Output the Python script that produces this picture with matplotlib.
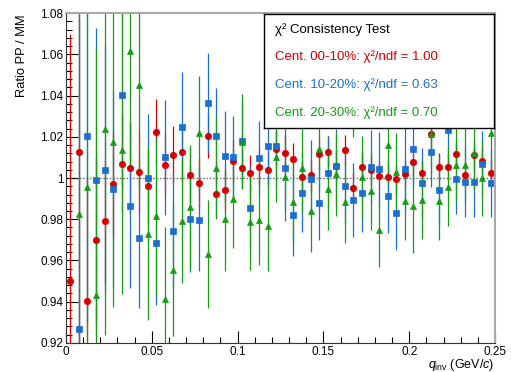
import numpy as np
import matplotlib.pyplot as plt
from matplotlib.ticker import MultipleLocator, FuncFormatter

plt.rcParams['font.family'] = ['Liberation Sans', 'DejaVu Sans']
plt.rcParams['mathtext.fontset'] = 'custom'
plt.rcParams['mathtext.rm'] = 'Liberation Sans'
plt.rcParams['mathtext.it'] = 'Liberation Sans:italic'

# bin centres (GeV/c), 5 MeV bins
q = np.arange(50) * 0.005 + 0.0025

nan = np.nan
red_y = [0.950, 1.0128, 0.9405, 0.9701, 0.9791, 0.9973, 1.0069, 1.0050, 1.0031, 0.9963,
         1.0222, 1.0062, 1.0112, 1.0125, 1.0013, 0.9976, 1.0205, 0.9922, 0.9940, 1.0082,
         1.0048, 1.0023, 1.0054, 1.0040, 1.0141, 1.0123, 1.0092, 1.0003, 1.0014, 1.0118,
         1.0128, 1.0060, 1.0134, 0.9950, 1.0053, 1.0039, 1.0011, 1.0003, 0.9995, 1.0018,
         1.0078, 1.0023, 1.0212, 1.0055, 1.0052, 1.0118, 1.0015, 1.0110, 1.0082, 1.0023]
red_err = [0.12, 0.12, 0.06, 0.04, 0.03, 0.026, 0.024, 0.022, 0.020, 0.018,
           0.016, 0.015, 0.014, 0.013, 0.013, 0.012, 0.011, 0.011, 0.010, 0.010,
           0.0095, 0.009, 0.009, 0.0085, 0.0085, 0.008, 0.008, 0.008, 0.0078, 0.0076,
           0.0075, 0.0074, 0.0073, 0.0072, 0.0071, 0.007, 0.007, 0.0069, 0.0069, 0.0068,
           0.0068, 0.0067, 0.0067, 0.0066, 0.0066, 0.0066, 0.0065, 0.0065, 0.0065, 0.0064]

blue_y = [nan, 0.9270, 1.0204, 0.9989, 1.0040, 0.9949, 1.0402, 0.9866, 0.9711, 1.0000,
          0.9686, 1.0100, 0.9745, 1.0246, 0.9803, 0.9798, 1.0365, 1.0204, 1.0105, 1.0102,
          1.0180, 0.9856, 1.0095, 1.0157, 1.0157, 1.0047, 0.9822, 0.9926, 0.9994, 0.9879,
          1.0026, 1.0060, 0.9961, 0.9892, 0.9929, 1.0053, 1.0044, 0.9914, 0.9832, 1.0042,
          1.0139, 0.9974, 1.0128, 0.9943, 1.0233, 0.9997, 0.9982, 0.9982, 1.0068, 0.9974]
blue_err = [nan, 0.15, 0.09, 0.074, 0.06, 0.048, 0.045, 0.040, 0.034, 0.031,
            0.030, 0.028, 0.028, 0.027, 0.026, 0.025, 0.024, 0.023, 0.022, 0.020,
            0.020, 0.020, 0.018, 0.018, 0.019, 0.020, 0.020, 0.019, 0.019, 0.018,
            0.018, 0.018, 0.018, 0.018, 0.019, 0.018, 0.018, 0.018, 0.018, 0.021,
            0.018, 0.017, 0.017, 0.017, 0.017, 0.017, 0.017, 0.017, 0.016, 0.0165]

green_y = [nan, 0.9825, 0.9956, 0.9431, 1.0239, 1.0176, 1.0137, 1.0617, 1.0449, 0.9730,
           0.9814, 0.9412, 0.9554, 0.9791, 0.9858, 1.0217, 0.9632, 1.0050, 0.9800, 0.9900,
           1.0176, 0.9786, 0.9796, 0.9769, 1.0103, 1.0003, 0.9884, 1.0047, 0.9842, 1.0141,
           0.9948, 1.0018, 0.9884, 1.0330, 1.0003, 0.9937, 0.9748, 1.0159, 1.0029, 0.9888,
           0.9864, 0.9893, 1.0215, 0.9890, 0.9958, 1.0063, 1.0063, 1.0121, 0.9998, 1.0217]
green_err = [nan, 0.20, 0.15, 0.12, 0.10, 0.08, 0.07, 0.055, 0.05, 0.042,
             0.038, 0.035, 0.032, 0.030, 0.030, 0.028, 0.026, 0.025, 0.025, 0.024,
             0.023, 0.023, 0.022, 0.022, 0.022, 0.021, 0.021, 0.021, 0.020, 0.020,
             0.020, 0.020, 0.020, 0.013, 0.020, 0.019, 0.018, 0.019, 0.019, 0.019,
             0.023, 0.019, 0.019, 0.019, 0.019, 0.018, 0.018, 0.018, 0.018, 0.018]

labels = ['Cent. 00-10%: \u03c7\u00b2/ndf = 1.00',
          'Cent. 10-20%: \u03c7\u00b2/ndf = 0.63',
          'Cent. 20-30%: \u03c7\u00b2/ndf = 0.70']
colors = ['#d40000', '#1a6fd0', '#139e13']
markers = ['o', 's', '^']
msizes = [4.6, 4.2, 4.6]

fig = plt.figure(figsize=(5.11, 3.72), dpi=100)
ax = fig.add_axes([0.1292, 0.078, 0.8395, 0.887])

ax.axhline(1.0, color='#777777', lw=1.0, ls=(0, (1.2, 1.2)), zorder=1.5)

for yv, ev, c, m, s in zip([red_y, blue_y, green_y], [red_err, blue_err, green_err],
                           colors, markers, msizes):
    ax.errorbar(q, yv, yerr=ev, fmt=m, color=c, ms=s, mec=c, mfc=c, mew=0.5,
                ecolor=c, elinewidth=0.9, capsize=0, zorder=2)

ax.set_xlim(0, 0.25)
ax.set_ylim(0.92, 1.08)
ax.xaxis.set_major_locator(MultipleLocator(0.05))
ax.xaxis.set_minor_locator(MultipleLocator(0.01))
ax.yaxis.set_major_locator(MultipleLocator(0.02))
ax.yaxis.set_minor_locator(MultipleLocator(0.004))
fmt = FuncFormatter(lambda v, p: '%g' % round(v, 4))
ax.xaxis.set_major_formatter(fmt)
ax.yaxis.set_major_formatter(fmt)
ax.tick_params(which='both', direction='in', top=False, right=False, labelsize=8.5, colors='black')
ax.tick_params(which='major', length=8.5, width=0.8)
ax.tick_params(which='minor', length=4.3, width=0.8)
ax.tick_params(axis='y', pad=2)
ax.tick_params(axis='x', pad=2.5)
for s in ['top', 'right']:
    ax.spines[s].set_color('#aaaaaa')
    ax.spines[s].set_linewidth(1.5)
for s in ['left', 'bottom']:
    ax.spines[s].set_color('#333333')
    ax.spines[s].set_linewidth(0.8)

fig.text(0.043, 0.962, 'Ratio PP / MM', rotation=90, ha='center', va='top', fontsize=9.3)
fig.text(0.968, 0.018, r'$q_{\rm inv}$ (GeV/$c$)', ha='right', va='center', fontsize=9)

# legend box
box = ax.inset_axes([0.461, 0.652, 0.537, 0.346])
box.set_xticks([])
box.set_yticks([])
box.set_facecolor('white')
box.set_zorder(5)
for s in box.spines.values():
    s.set_color('black')
    s.set_linewidth(1.0)
box.text(0.05, 0.86, '\u03c7\u00b2 Consistency Test', transform=box.transAxes,
         ha='left', va='center', fontsize=9.5, color='black')
for i, (lab, c) in enumerate(zip(labels, colors)):
    box.text(0.05, 0.62 - 0.245 * i, lab, transform=box.transAxes,
             ha='left', va='center', fontsize=9.5, color=c)

fig.savefig('out.png', dpi=100)
